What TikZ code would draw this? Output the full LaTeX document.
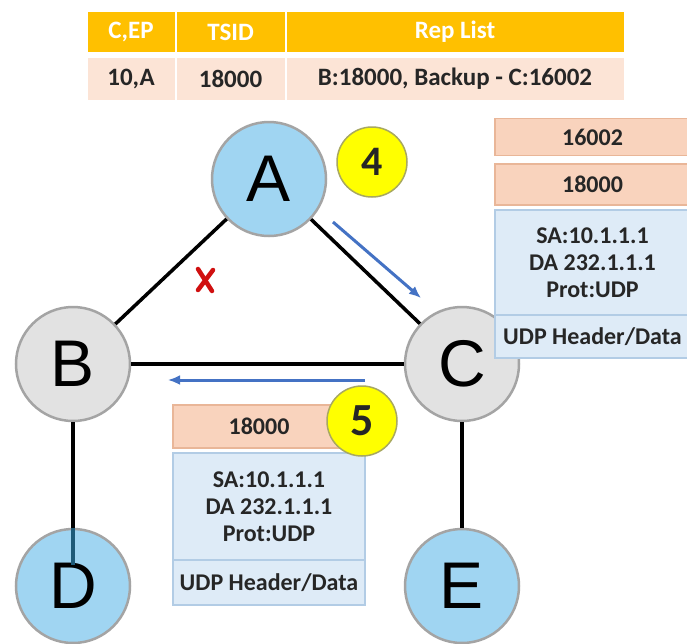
\documentclass[tikz,border=0pt]{standalone}
\usepackage{fontspec}
\setmainfont{Carlito}
\newfontfamily\arialf{Liberation Sans}
\usetikzlibrary{arrows.meta}
\definecolor{hdrc}{HTML}{FFC000}
\definecolor{rowc}{HTML}{FCE4D6}
\definecolor{peach}{HTML}{F9D3BD}
\definecolor{peachb}{HTML}{E9B698}
\definecolor{pblue}{HTML}{DEEBF7}
\definecolor{pblueb}{HTML}{B2CCE5}
\definecolor{nblue}{HTML}{A0D5F2}
\definecolor{ngray}{HTML}{E2E2E2}
\definecolor{nborder}{HTML}{A4A4A4}
\definecolor{flowc}{HTML}{4472C4}
\definecolor{yel}{HTML}{FFFF00}
\definecolor{yelb}{HTML}{A8A860}
\definecolor{inlink}{HTML}{1E5A78}
\definecolor{txt}{HTML}{262626}
\definecolor{xred}{HTML}{D01010}
\tikzset{
  bluenode/.style={circle, fill=nblue, draw=nborder, line width=2.5, minimum size=114, inner sep=0, text=black, font=\arialf\fontsize{66}{66}\selectfont},
  graynode/.style={bluenode, fill=ngray},
  badge/.style={circle, fill=yel, draw=yelb, line width=1.5, minimum size=70, inner sep=0, text=txt, font=\bfseries\fontsize{42}{42}\selectfont},
  hcell/.style={rectangle, fill=hdrc, draw=white, line width=2, inner sep=0, text=white, font=\bfseries\fontsize{25}{25}\selectfont},
  dcell/.style={rectangle, fill=rowc, draw=white, line width=2, inner sep=0, text=txt, font=\bfseries\fontsize{25}{25}\selectfont},
  pbox/.style={rectangle, fill=peach, draw=peachb, line width=1.5, inner sep=0, text=txt, font=\bfseries\fontsize{24}{24}\selectfont},
  bbox/.style={rectangle, fill=pblue, draw=pblueb, line width=1.5, inner sep=0, align=center, text=txt, font=\bfseries\fontsize{24}{27}\selectfont},
  link/.style={line width=3.5, black},
  flow/.style={line width=3, flowc, -{Latex[length=12, width=10]}},
  xstroke/.style={line width=4.5, xred, line cap=round}
}
\begin{document}
\begin{tikzpicture}[x=1pt,y=-1pt]
\useasboundingbox[fill=white] (0,0) rectangle (687,643);

% table
\node[hcell, minimum width=89, minimum height=42] (h1) at (131,32) {C,EP};
\node[hcell, minimum width=110, minimum height=42] (h2) at (230.5,32) {TSID};
\node[hcell, minimum width=339, minimum height=42] (h3) at (455,32) {Rep List};
\node[dcell, minimum width=89, minimum height=44] (d1) at (131,79) {10,A};
\node[dcell, minimum width=110, minimum height=44] (d2) at (230.5,79) {18000};
\node[dcell, minimum width=339, minimum height=44] (d3) at (455,79) {B:18000, Backup - C:16002};

% router nodes
\node[bluenode] (A) at (269,179) {A};
\node[graynode] (B) at (73,364) {B};
\node[graynode] (C) at (462,364) {C};
\node[bluenode] (D) at (73,586) {D};
\node[bluenode] (E) at (462,586) {E};

% links
\draw[link] (A) -- (B);
\draw[link] (A) -- (C);
\draw[link] (B) -- (C);
\draw[link] (C) -- (E);
\draw[link] (B) -- (D);
\coordinate (Dend) at (73,565);
\draw[line width=3.5, inlink] (D.north) -- (Dend);

% failed link mark
\coordinate (xm) at (205,280);
\draw[xstroke] ([shift={(-7,-11)}]xm) -- ([shift={(7,11)}]xm);
\draw[xstroke] ([shift={(8,-10)}]xm) -- ([shift={(-7,10)}]xm);

% step badge 4
\node[badge] (s4) at (372,162) {4};

% flow arrows
\coordinate (f1s) at (333,222);
\coordinate (f1e) at (421,298);
\draw[flow] (f1s) -- (f1e);
\coordinate (f2s) at (365,380);
\coordinate (f2e) at (168,380);
\draw[flow] (f2s) -- (f2e);

% packet at C (right)
\node[pbox, minimum width=195, minimum height=37] (r1) at (592.5,137) {16002};
\node[pbox, minimum width=195, minimum height=41] (r2) at (592.5,184.5) {18000};
\node[bbox, minimum width=195, minimum height=105] (r3) at (592.5,262.5) {SA:10.1.1.1\\DA 232.1.1.1\\Prot:UDP};
\node[bbox, minimum width=195, minimum height=43] (r4) at (592.5,336.5) {UDP Header/Data};

% packet between C and B (bottom)
\node[pbox, minimum width=172, minimum height=43] (b1) at (259,426.5) {18000};
\node[bbox, minimum width=192, minimum height=107] (b2) at (269,506.5) {SA:10.1.1.1\\DA 232.1.1.1\\Prot:UDP};
\node[bbox, minimum width=192, minimum height=45] (b3) at (269,582.5) {UDP Header/Data};

% step badge 5, on top of the packet
\node[badge, font=\bfseries\fontsize{46}{46}\selectfont] (s5) at (362,421) {5};
\end{tikzpicture}
\end{document}
